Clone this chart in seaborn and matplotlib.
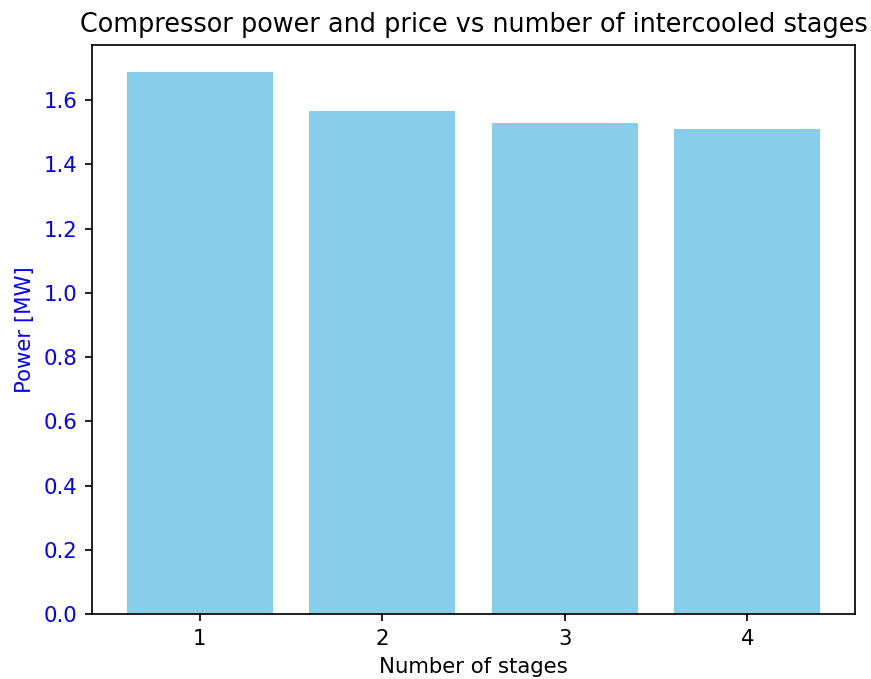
import matplotlib
matplotlib.use("Agg")
import matplotlib.pyplot as plt
import seaborn as sns
import pandas as pd

# Compressor power for each number of intercooled stages
stages = [1, 2, 3, 4]
power_mw = [1.687, 1.567, 1.530, 1.510]

df = pd.DataFrame({"stages": stages, "power": power_mw})

DPI = 153
fig = plt.figure(figsize=(871 / DPI, 679 / DPI), dpi=DPI)
W, H = 871, 679
ax = fig.add_axes([92 / W, 1 - 614 / H, (855 - 92) / W, (614 - 45) / H])

sns.barplot(data=df, x="stages", y="power", color="skyblue", saturation=1,
            width=0.8, ax=ax)

ax.set_xlim(-0.59, 3.59)
ax.set_ylim(0, max(power_mw) * 1.05)
ax.set_yticks([0.0, 0.2, 0.4, 0.6, 0.8, 1.0, 1.2, 1.4, 1.6])
ax.set_yticklabels([f"{v:.1f}" for v in ax.get_yticks()])

ax.set_xlabel("Number of stages")
ax.set_ylabel("Power [MW]", color="blue")
ax.tick_params(axis="y", labelcolor="blue")
ax.set_title("Compressor power and price vs number of intercooled stages")

fig.savefig("out.png", dpi=DPI)
